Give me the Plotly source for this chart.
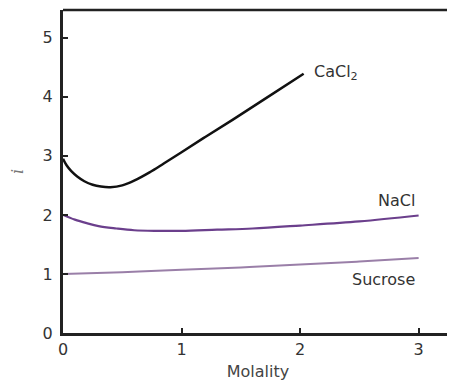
import plotly.graph_objects as go

cacl2_m = [0, 0.03, 0.07, 0.12, 0.18, 0.25, 0.32, 0.4, 0.5, 0.6, 0.73, 0.85, 1.0, 1.2, 1.43, 1.7, 2.03]
cacl2_i = [2.95, 2.84, 2.74, 2.65, 2.57, 2.51, 2.48, 2.47, 2.50, 2.58, 2.72, 2.87, 3.06, 3.32, 3.61, 3.96, 4.39]

nacl_m = [0, 0.1, 0.2, 0.3, 0.45, 0.6, 0.8, 1.0, 1.3, 1.6, 2.0, 2.5, 3.0]
nacl_i = [2.0, 1.92, 1.86, 1.81, 1.77, 1.74, 1.73, 1.73, 1.75, 1.77, 1.82, 1.89, 1.99]

sucrose_m = [0, 0.5, 1.0, 1.5, 2.0, 2.5, 3.0]
sucrose_i = [1.0, 1.03, 1.07, 1.11, 1.16, 1.21, 1.27]

x_ticks = [0, 1, 2, 3]
y_ticks = [0, 1, 2, 3, 4, 5]

fig = go.Figure()
fig.add_trace(go.Scatter(x=sucrose_m, y=sucrose_i, mode="lines", line=dict(color="#9a7fa8", width=2, shape="spline")))
fig.add_trace(go.Scatter(x=nacl_m, y=nacl_i, mode="lines", line=dict(color="#6b3f8c", width=2.2, shape="spline")))
fig.add_trace(go.Scatter(x=cacl2_m, y=cacl2_i, mode="lines", line=dict(color="#111111", width=2.5, shape="spline")))

font = dict(family="DejaVu Sans", size=16, color="#333333")
fig.add_annotation(x=2.10, y=4.41, text="CaCl<sub>2</sub>", xanchor="left", yanchor="middle", showarrow=False, font=font)
fig.add_annotation(x=2.99, y=2.25, text="NaCl", xanchor="right", yanchor="middle", showarrow=False, font=font)
fig.add_annotation(x=2.99, y=0.90, text="Sucrose", xanchor="right", yanchor="middle", showarrow=False, font=font)

# top and right frame lines
fig.add_shape(type="line", xref="paper", yref="paper", x0=0, x1=1, y0=1, y1=1, line=dict(color="#222222", width=2.5))
fig.add_shape(type="line", xref="paper", yref="paper", x0=1, x1=1, y0=0, y1=1, line=dict(color="#bbbbbb", width=1))

fig.update_layout(
    width=447, height=384,
    margin=dict(l=55, r=2, t=2, b=59),
    paper_bgcolor="white", plot_bgcolor="white",
    showlegend=False,
    font=font,
    xaxis=dict(range=[0, 3.29], tickvals=x_ticks, ticks="inside", ticklen=5, tickwidth=2, tickcolor="#222222",
               showline=True, linecolor="#222222", linewidth=3, showgrid=False, zeroline=False,
               automargin=False,
               tickfont=dict(family="DejaVu Sans", size=16, color="#333333"),
               title=dict(text="Molality", font=dict(family="DejaVu Sans", size=16, color="#444444"), standoff=8)),
    yaxis=dict(range=[0, 5.47], tickvals=y_ticks, ticks="inside", ticklen=5, tickwidth=2, tickcolor="#222222",
               showline=True, linecolor="#222222", linewidth=3, showgrid=False, zeroline=False,
               automargin=False,
               ticklabelstandoff=4,
               tickfont=dict(family="DejaVu Sans", size=16, color="#333333"),
               title=dict(text="<i>i</i>", font=dict(family="DejaVu Serif", size=16, color="#777777"), standoff=18)),
)

fig.write_html("out.html")
